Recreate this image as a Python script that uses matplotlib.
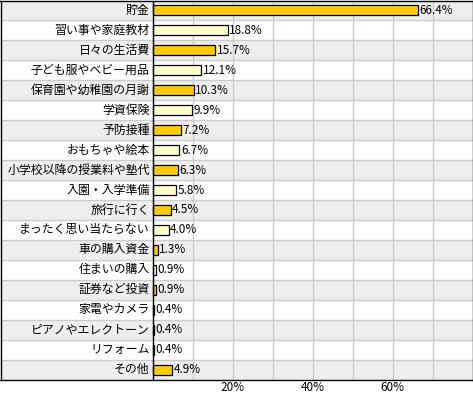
import matplotlib
matplotlib.use("Agg")
import matplotlib.pyplot as plt

plt.rcParams["font.family"] = ["Noto Sans CJK JP", "DejaVu Sans"]

# Data (percent of respondents).
labels = [
    "貯金", "習い事や家庭教材", "日々の生活費", "子ども服やベビー用品",
    "保育園や幼稚園の月謝", "学資保険", "予防接種", "おもちゃや絵本",
    "小学校以降の授業料や塾代", "入園・入学準備", "旅行に行く",
    "まったく思い当たらない", "車の購入資金", "住まいの購入", "証券など投資",
    "家電やカメラ", "ピアノやエレクトーン", "リフォーム", "その他",
]
values = [66.4, 18.8, 15.7, 12.1, 10.3, 9.9, 7.2, 6.7, 6.3, 5.8, 4.5,
          4.0, 1.3, 0.9, 0.9, 0.4, 0.4, 0.4, 4.9]
xticks = [20, 40, 60]

GOLD = "#ffcc00"
PALE = "#ffffcc"
ROW_GRAY = "#eeeeee"
GRID = "#cccccc"

fig = plt.figure(figsize=(4.73, 3.95), dpi=100)
W, H = 473, 395
# one axes spans label column + plot area; 4 px per percent, label column 152 px
ax = fig.add_axes([0.5 / W, 15.5 / H, 472 / W, 379 / H])
ax.set_xlim(-38, 80)
n = len(labels)
ax.set_ylim(n - 0.5, -0.5)

for i in range(n):
    if i % 2 == 0:
        ax.axhspan(i - 0.5, i + 0.5, color=ROW_GRAY, lw=0, zorder=0)
    if i < n - 1:
        ax.axhline(i + 0.5, color=GRID, lw=1.0, zorder=1)

ax.vlines(range(10, 80, 10), -0.5, n - 0.5, color=GRID, lw=1.0, zorder=1)
ax.axvline(0, color="black", lw=1.0, zorder=4)

colors = [GOLD if i % 2 == 0 else PALE for i in range(n)]
ax.barh(range(n), values, height=0.5, color=colors, edgecolor="black",
        linewidth=0.9, zorder=3)

for i, (lab, v) in enumerate(zip(labels, values)):
    ax.text(-0.7, i, lab, ha="right", va="center", fontsize=8.6, zorder=5)
    ax.text(v + 0.4, i, f"{v:.1f}%", ha="left", va="center", fontsize=8.5,
            zorder=5)

ax.set_yticks([])
ax.set_xticks(xticks)
ax.set_xticklabels([f"{t}%" for t in xticks], fontsize=8.5)
ax.tick_params(axis="x", length=0, pad=1)

for s in ax.spines.values():
    s.set_color("black")
    s.set_linewidth(1.0)

fig.savefig("out.png", dpi=100)
